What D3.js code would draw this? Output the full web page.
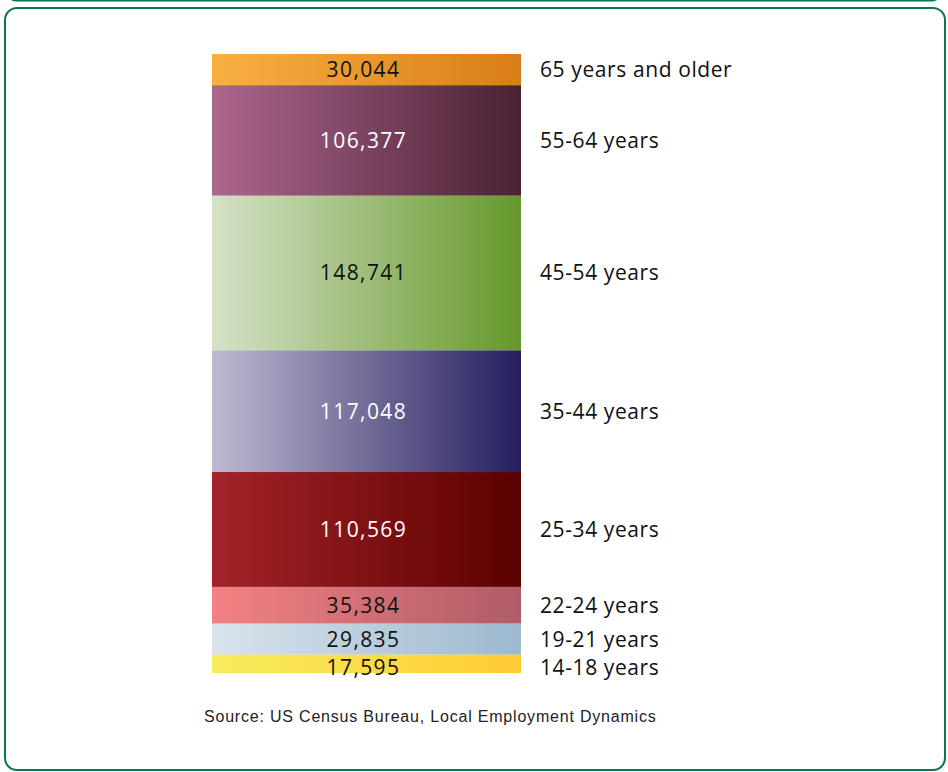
<!DOCTYPE html>
<html>
<head>
<meta charset="utf-8">
<script src="https://cdn.jsdelivr.net/npm/d3@7"></script>
<style>
  html, body { margin: 0; padding: 0; background: #fff; }
  svg { display: block; }
</style>
</head>
<body>
<svg id="chart" width="948" height="772"></svg>
<script>
// age groups, top of the stack first
const groups = ["65 years and older", "55-64 years", "45-54 years", "35-44 years",
                "25-34 years", "22-24 years", "19-21 years", "14-18 years"];
const workers = [30044, 106377, 148741, 117048, 110569, 35384, 29835, 17595];
const leftColors  = ["#f9b040", "#ad668e", "#d6e2c8", "#bfbad1", "#a3232a", "#f38183", "#d9e3ec", "#f7ec5e"];
const rightColors = ["#d97e16", "#4a2133", "#65982b", "#241e5f", "#5b0000", "#b05c67", "#9cb9cf", "#ffcb33"];
const valueInk    = ["#111", "#fff", "#111", "#fff", "#fff", "#111", "#111", "#111"];
const source = "Source: US Census Bureau, Local Employment Dynamics";

const svg = d3.select("#chart");
const green = "#0b7550";

// frame of the box above, only its bottom edge peeks in
svg.append("rect")
    .attr("x", 5).attr("y", -760).attr("width", 938).attr("height", 760.5)
    .attr("rx", 12).attr("fill", "none").attr("stroke", green).attr("stroke-width", 2);

// main frame
svg.append("rect")
    .attr("x", 5).attr("y", 8).attr("width", 940).attr("height", 762)
    .attr("rx", 12).attr("fill", "#fff").attr("stroke", green).attr("stroke-width", 2);

const barX = 212, barW = 309;
const barTop = 54, barBottom = 673;

// stack from the bottom up
const total = d3.sum(workers);
const y = d3.scaleLinear().domain([0, total]).range([barBottom, barTop]);

const rows = groups.map((g, i) => {
    const below = d3.sum(workers.slice(i + 1));
    return { group: g, value: workers[i], y0: below, y1: below + workers[i], i };
});

const defs = svg.append("defs");
rows.forEach(d => {
    const grad = defs.append("linearGradient")
        .attr("id", "grad" + d.i)
        .attr("x1", "0%").attr("x2", "100%").attr("y1", "0%").attr("y2", "0%");
    grad.append("stop").attr("offset", "0%").attr("stop-color", leftColors[d.i]);
    grad.append("stop").attr("offset", "100%").attr("stop-color", rightColors[d.i]);
});

const g = svg.append("g");

g.selectAll("rect.seg")
    .data(rows)
    .enter()
    .append("rect")
    .attr("class", "seg")
    .attr("x", barX)
    .attr("y", d => y(d.y1))
    .attr("width", barW)
    .attr("height", d => y(d.y0) - y(d.y1))
    .attr("fill", d => "url(#grad" + d.i + ")");

// label positions: segment middle, pushed down when too close to the one above
const minGap = 28;
let prev = -Infinity;
rows.forEach(d => {
    let c = (y(d.y0) + y(d.y1)) / 2;
    if (c - prev < minGap) c = prev + minGap;
    d.ly = c;
    prev = c;
});

const fmt = d3.format(",");
const font = "'Open Sans', 'Noto Sans', sans-serif";

g.selectAll("text.val")
    .data(rows)
    .enter()
    .append("text")
    .attr("class", "val")
    .attr("x", barX + barW / 2 - 3)
    .attr("y", d => d.ly)
    .attr("dy", "0.35em")
    .attr("text-anchor", "middle")
    .attr("font-family", font)
    .attr("font-size", 21)
    .attr("letter-spacing", 1.4)
    .attr("fill", d => valueInk[d.i])
    .text(d => fmt(d.value));

g.selectAll("text.lab")
    .data(rows)
    .enter()
    .append("text")
    .attr("class", "lab")
    .attr("x", 540)
    .attr("y", d => d.ly)
    .attr("dy", "0.35em")
    .attr("font-family", font)
    .attr("font-size", 21)
    .attr("letter-spacing", 0.6)
    .attr("fill", "#111")
    .text(d => d.group);

svg.append("text")
    .attr("x", 204)
    .attr("y", 722)
    .attr("font-family", "'Liberation Sans', Arial, sans-serif")
    .attr("font-size", 16)
    .attr("letter-spacing", 0.8)
    .attr("fill", "#222")
    .text(source);
</script>
</body>
</html>
